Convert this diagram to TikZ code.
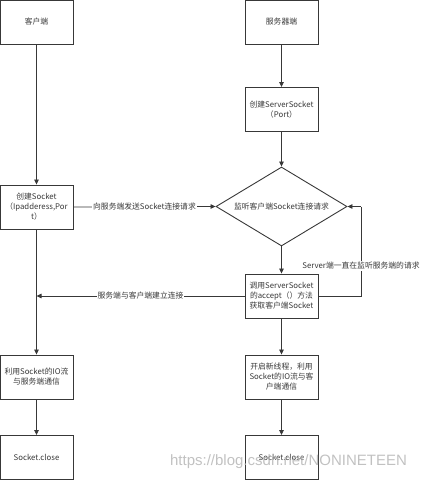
\documentclass[tikz,border=0pt]{standalone}
\usepackage{fontspec}
\setmainfont{Noto Sans CJK SC}
\newfontfamily\wmfont{Liberation Sans}
\usetikzlibrary{shapes.geometric,arrows.meta}
\definecolor{ln}{HTML}{383838}
\tikzset{
  box/.style={draw=ln, line width=0.9pt, minimum width=73pt, minimum height=44pt, inner sep=0pt, align=center, font=\fontsize{7.8}{10}\selectfont, text=ln},
  conn/.style={draw=ln, line width=0.8pt, -{Triangle[length=5pt,width=4.5pt]}},
  plain/.style={draw=ln, line width=0.8pt},
  lbl/.style={fill=white, inner sep=1pt, font=\fontsize{7.8}{10}\selectfont, text=ln}
}
\begin{document}
\begin{tikzpicture}[x=1pt,y=-1pt]
\useasboundingbox (0,0) rectangle (423,480);
\node[box] (client) at (36.5,22) {客户端};
\node[box] (server) at (281.5,22) {服务器端};
\node[box] (ss) at (281.5,109.5) {创建ServerSocket\\（Port）};
\node[box] (cs) at (36.5,207) {创建Socket\\（Ipadderess,Por\\t）};
\node[diamond, draw=ln, line width=0.9pt, minimum width=131pt, minimum height=79pt, inner sep=0pt] (d) at (281.5,206.5) {};
\node[font=\fontsize{7.8}{10}\selectfont, text=ln, inner sep=0pt] (dt) at (d.center) {监听客户端Socket连接请求};
\node[box] (acc) at (281.5,296) {调用ServerSocket\\的accept（）方法\\获取客户端Socket};
\node[box] (cio) at (36.5,377) {利用Socket的IO流\\与服务端通信};
\node[box] (sio) at (281.5,377) {开启新线程，利用\\Socket的IO流与客\\户端通信};
\node[box] (cclose) at (36.5,457.5) {Socket.close};
\node[box] (sclose) at (281.5,457.5) {Socket.close};
\coordinate (loopb) at (361,296);
\coordinate (loopt) at (361,206.5);
\coordinate (meet) at (36.5,296);

\draw[conn] (client) -- (cs);
\draw[conn] (server) -- (ss);
\draw[conn] (ss) -- (d.north);
\draw[conn] (cs.east) -- node[lbl] (l1) {向服务端发送Socket连接请求} (d.west);
\draw[conn] (d.south) -- (acc);
\draw[plain] (acc.east) -- (loopb) -- (loopt);
\draw[conn] (loopt) -- (d.east);
\node[lbl] (l3) at (361,266) {Server端一直在监听服务端的请求};
\draw[conn] (acc.west) -- node[lbl] (l2) {服务端与客户端建立连接} (meet);
\draw[conn] (cs) -- (cio);
\draw[conn] (cio) -- (cclose);
\draw[conn] (acc) -- (sio);
\draw[conn] (sio) -- (sclose);
\node[text=black!30, opacity=0.8, font=\wmfont\fontsize{15}{16}\selectfont, inner sep=0pt] (wm) at (288.5,462) {https://blog.csdn.net/NONINETEEN};
\end{tikzpicture}
\end{document}
